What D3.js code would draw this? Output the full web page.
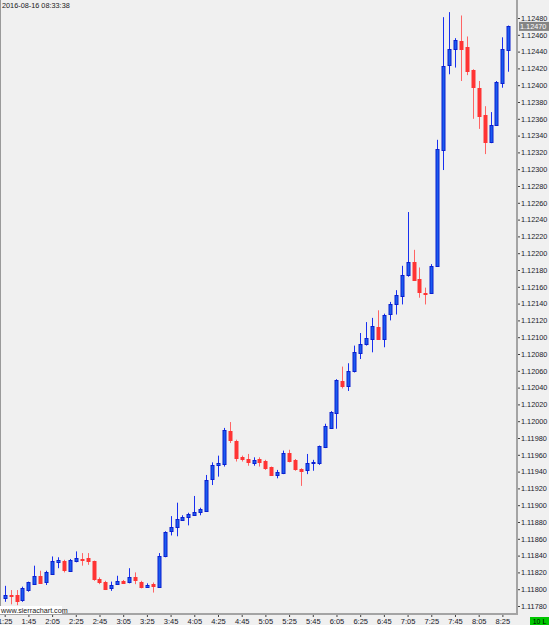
<!DOCTYPE html>
<html>
<head>
<meta charset="utf-8">
<script src="https://cdn.jsdelivr.net/npm/d3@7"></script>
<style>
    body { margin: 0; background: #f0f0f0; }
    svg { display: block; }
    text { font-family: "Liberation Sans", Arial, sans-serif; }
</style>
</head>
<body>
<svg width="549" height="625"></svg>
<script>
const svg_ = d3.select('svg');

const W = 549;
const H = 625;

// 5 minute bars, 2016-08-16
const times = [
    "01:25","01:30","01:35","01:40","01:45","01:50","01:55","02:00","02:05","02:10",
    "02:15","02:20","02:25","02:30","02:35","02:40","02:45","02:50","02:55","03:00",
    "03:05","03:10","03:15","03:20","03:25","03:30","03:35","03:40","03:45","03:50",
    "03:55","04:00","04:05","04:10","04:15","04:20","04:25","04:30","04:35","04:40",
    "04:45","04:50","04:55","05:00","05:05","05:10","05:15","05:20","05:25","05:30",
    "05:35","05:40","05:45","05:50","05:55","06:00","06:05","06:10","06:15","06:20",
    "06:25","06:30","06:35","06:40","06:45","06:50","06:55","07:00","07:05","07:10",
    "07:15","07:20","07:25","07:30","07:35","07:40","07:45","07:50","07:55","08:00",
    "08:05","08:10","08:15","08:20","08:25","08:30"
];

const open = [
    1.11789,1.11793,1.11793,1.11787,1.11798,1.11807,1.11816,1.11808,1.11819,1.11833,
    1.11834,1.11822,1.11834,1.11836,1.11837,1.11833,1.11812,1.11809,1.11802,1.11806,
    1.11810,1.11808,1.11814,1.11809,1.11803,1.11806,1.11803,1.11839,1.11869,1.11874,
    1.11883,1.11885,1.11889,1.11892,1.11893,1.11931,1.11948,1.11948,1.11988,1.11977,
    1.11957,1.11955,1.11951,1.11955,1.11953,1.11945,1.11936,1.11938,1.11962,1.11954,
    1.11943,1.11942,1.11950,1.11950,1.11969,1.11992,1.12010,1.12048,1.12042,1.12059,
    1.12081,1.12092,1.12098,1.12112,1.12098,1.12127,1.12139,1.12149,1.12174,1.12189,
    1.12169,1.12153,1.12153,1.12185,1.12323,1.12424,1.12443,1.12453,1.12445,1.12418,
    1.12397,1.12364,1.12333,1.12353,1.12403,1.12442
];

const high = [
    1.11804,1.11799,1.11799,1.11803,1.11809,1.11828,1.11822,1.11822,1.11839,1.11838,
    1.11835,1.11836,1.11845,1.11843,1.11843,1.11834,1.11814,1.11810,1.11809,1.11816,
    1.11811,1.11825,1.11820,1.11810,1.11807,1.11808,1.11843,1.11869,1.11887,1.11903,
    1.11888,1.11891,1.11911,1.11897,1.11936,1.11951,1.11959,1.11992,1.11999,1.11978,
    1.11959,1.11961,1.11957,1.11957,1.11954,1.11946,1.11942,1.11965,1.11966,1.11955,
    1.11944,1.11961,1.11954,1.11971,1.11997,1.12012,1.12050,1.12065,1.12069,1.12090,
    1.12105,1.12118,1.12123,1.12132,1.12128,1.12142,1.12156,1.12185,1.12249,1.12204,
    1.12183,1.12159,1.12187,1.12335,1.12481,1.12487,1.12456,1.12483,1.12458,1.12419,
    1.12405,1.12375,1.12368,1.12405,1.12457,1.12471
];

const low = [
    1.11785,1.11782,1.11781,1.11785,1.11797,1.11806,1.11807,1.11805,1.11818,1.11825,
    1.11820,1.11821,1.11832,1.11828,1.11829,1.11810,1.11806,1.11799,1.11798,1.11805,
    1.11807,1.11807,1.11806,1.11801,1.11802,1.11796,1.11802,1.11838,1.11864,1.11863,
    1.11882,1.11876,1.11888,1.11888,1.11892,1.11924,1.11934,1.11946,1.11974,1.11952,
    1.11952,1.11947,1.11947,1.11946,1.11942,1.11935,1.11932,1.11937,1.11951,1.11941,
    1.11923,1.11937,1.11941,1.11948,1.11968,1.11991,1.11991,1.12039,1.12036,1.12058,
    1.12074,1.12090,1.12082,1.12097,1.12088,1.12120,1.12127,1.12139,1.12172,1.12167,
    1.12147,1.12139,1.12152,1.12184,1.12299,1.12413,1.12421,1.12405,1.12412,1.12360,
    1.12348,1.12318,1.12331,1.12352,1.12397,1.12416
];

const close = [
    1.11793,1.11792,1.11786,1.11801,1.11808,1.11816,1.11808,1.11820,1.11834,1.11835,
    1.11823,1.11835,1.11837,1.11835,1.11833,1.11811,1.11809,1.11801,1.11805,1.11810,
    1.11808,1.11814,1.11810,1.11803,1.11805,1.11804,1.11840,1.11868,1.11874,1.11884,
    1.11886,1.11889,1.11892,1.11895,1.11930,1.11948,1.11950,1.11989,1.11977,1.11957,
    1.11955,1.11951,1.11954,1.11951,1.11945,1.11936,1.11939,1.11962,1.11953,1.11943,
    1.11941,1.11950,1.11951,1.11970,1.11994,1.12011,1.12049,1.12042,1.12060,1.12082,
    1.12092,1.12099,1.12113,1.12098,1.12127,1.12139,1.12150,1.12174,1.12189,1.12168,
    1.12153,1.12152,1.12185,1.12324,1.12423,1.12443,1.12454,1.12443,1.12417,1.12398,
    1.12364,1.12332,1.12353,1.12404,1.12443,1.12470
];

const PRICE_MIN = 1.11780;
const PRICE_MAX = 1.12480;
const LAST_PRICE = 1.12470;
const STAMP = "2016-08-16 08:33:38";
const DAY = "2016-08-16";

const DIMS = {
    AXIS_X: 517,
    AXIS_Y: 614,
    TOP_Y: 18,
    BOT_Y: 606,
    FIRST_X: 4.7,
    LAST_X: 508.3
};

const FONT = "Liberation Sans, Arial, sans-serif";

const parse = d3.timeParse("%Y-%m-%d %H:%M");
const bars = times.map((t, i) => ({
    t: parse(DAY + " " + t),
    o: open[i], h: high[i], l: low[i], c: close[i]
}));

const x = d3.scaleTime()
    .domain([bars[0].t, bars[bars.length - 1].t])
    .range([DIMS.FIRST_X, DIMS.LAST_X]);

const y = d3.scaleLinear()
    .domain([PRICE_MIN, PRICE_MAX])
    .range([DIMS.BOT_Y, DIMS.TOP_Y]);

svg_.append("rect")
    .attr("width", W).attr("height", H)
    .attr("fill", "#f0f0f0");

// candles

const cx = d => Math.round(x(d.t));
const up = d => d.c >= d.o;

const g = svg_.append("g");

g.selectAll("line.wick")
    .data(bars)
    .join("line")
    .attr("x1", d => cx(d) + 0.5)
    .attr("x2", d => cx(d) + 0.5)
    .attr("y1", d => y(d.h))
    .attr("y2", d => y(d.l))
    .attr("stroke", d => up(d) ? "#1830f0" : "#ff6464")
    .attr("stroke-width", 1);

g.selectAll("rect.body")
    .data(bars)
    .join("rect")
    .attr("x", d => cx(d) - 1)
    .attr("width", 3)
    .attr("y", d => Math.round(y(Math.max(d.o, d.c))) + 0.5)
    .attr("height", d => Math.max(1, Math.round(Math.abs(y(d.o) - y(d.c)))))
    .attr("fill", d => up(d) ? "#1a5cee" : "#ff3434")
    .attr("stroke", d => up(d) ? "#0a1ed0" : "#ff3434")
    .attr("stroke-width", 1);

// frame lines

svg_.append("line")
    .attr("x1", 0.5).attr("x2", 0.5)
    .attr("y1", 0).attr("y2", DIMS.AXIS_Y)
    .attr("stroke", "#9a9a9a");

svg_.append("line")
    .attr("x1", DIMS.AXIS_X).attr("x2", DIMS.AXIS_X)
    .attr("y1", 0).attr("y2", DIMS.AXIS_Y + 1)
    .attr("stroke", "#a4a4a4")
    .attr("stroke-width", 2);

svg_.append("line")
    .attr("x1", 0).attr("x2", DIMS.AXIS_X + 1)
    .attr("y1", DIMS.AXIS_Y).attr("y2", DIMS.AXIS_Y)
    .attr("stroke", "#a4a4a4")
    .attr("stroke-width", 2);

// price axis

const yAxis = svg_.append("g")
    .attr("transform", `translate(${DIMS.AXIS_X + 1},0)`)
    .call(d3.axisRight(y).ticks(36).tickSize(2).tickPadding(1).tickFormat(d3.format(".5f")));

yAxis.select(".domain").remove();
yAxis.selectAll(".tick line").attr("stroke", "#404040");
yAxis.selectAll("text")
    .attr("font-size", 7.3)
    .attr("font-family", FONT)
    .attr("fill", "#1a1a2a");

// time axis

const tickTimes = bars.filter(d => d.t.getMinutes() % 20 === 5).map(d => d.t);

const xAxis = svg_.append("g")
    .attr("transform", `translate(0,${DIMS.AXIS_Y + 1})`)
    .call(d3.axisBottom(x).tickValues(tickTimes).tickSize(2).tickPadding(2).tickFormat(d3.timeFormat("%-H:%M")));

xAxis.select(".domain").remove();
xAxis.selectAll(".tick line").attr("stroke", "#404040");
xAxis.selectAll("text")
    .attr("font-size", 7.5)
    .attr("font-family", FONT)
    .attr("fill", "#1a1a2a");

// last price marker

svg_.append("rect")
    .attr("x", DIMS.AXIS_X + 2)
    .attr("y", y(LAST_PRICE) - 4.5)
    .attr("width", W - DIMS.AXIS_X - 2)
    .attr("height", 9)
    .attr("fill", "#848484");

svg_.append("text")
    .attr("x", DIMS.AXIS_X + 3)
    .attr("y", y(LAST_PRICE) + 2.7)
    .attr("font-size", 7.3)
    .attr("fill", "#ffffff")
    .text(d3.format(".5f")(LAST_PRICE));

// labels

svg_.append("text")
    .attr("x", 2).attr("y", 8)
    .attr("font-size", 7.3)
    .attr("fill", "#1a1a1a")
    .text(STAMP);

svg_.append("rect")
    .attr("x", 0).attr("y", 606)
    .attr("width", 62).attr("height", 8)
    .attr("fill", "#ffffff");

svg_.append("text")
    .attr("x", 1).attr("y", 612.5)
    .attr("font-size", 7.2)
    .attr("fill", "#1a1a1a")
    .text("www.sierrachart.com");

svg_.append("rect")
    .attr("x", 530).attr("y", 617)
    .attr("width", 19).attr("height", 8)
    .attr("fill", "#00c800");

svg_.append("text")
    .attr("x", 539.5).attr("y", 623.5)
    .attr("text-anchor", "middle")
    .attr("font-size", 7)
    .attr("fill", "#000000")
    .text("10 L");
</script>
</body>
</html>
